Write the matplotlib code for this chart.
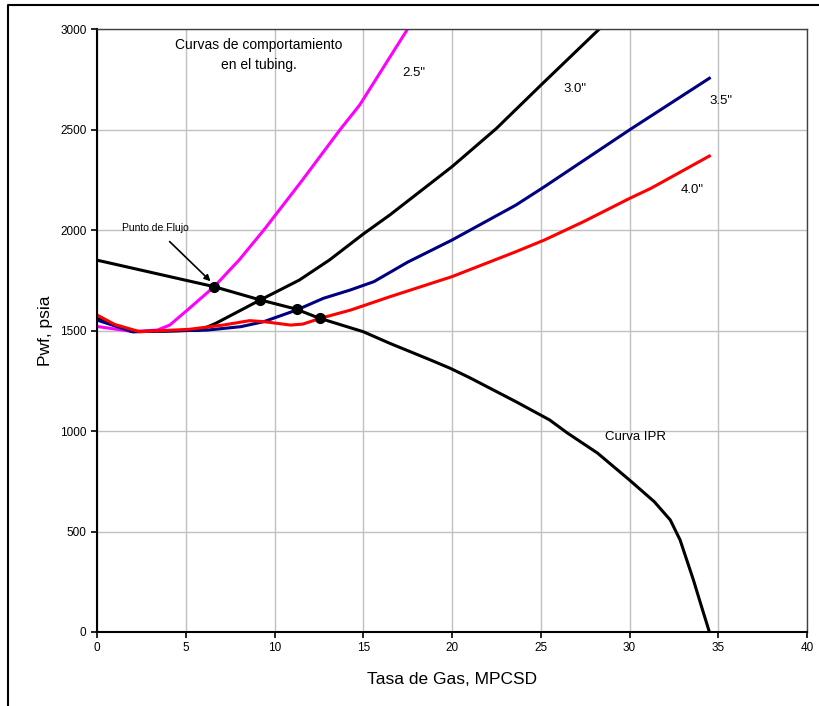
import numpy as np
import matplotlib
matplotlib.use("Agg")
import matplotlib.pyplot as plt
from matplotlib.lines import Line2D

plt.rcParams['font.family'] = ['Liberation Sans', 'DejaVu Sans']

# Curva IPR
q_ipr = [0, 6.6, 9.2, 11.2, 12.5, 15, 16.5, 18.8, 19.9, 21, 23.6, 25.5, 26.5,
         28.2, 30, 31.4, 32.3, 32.85, 33.6, 34.0, 34.5]
p_ipr = [1850, 1718, 1652, 1607, 1562, 1494, 1436, 1353, 1312, 1265, 1146, 1055, 990,
         890, 756, 648, 557, 458, 259, 143, 0]

# Curvas de tubing
q_25 = [0, 2, 3.4, 4.1, 5.2, 6.6, 8, 9.4, 11.5, 13.7, 14.8, 16, 17.5]
p_25 = [1520, 1495, 1502, 1527, 1610, 1718, 1850, 2000, 2240, 2500, 2622, 2790, 3000]

q_30 = [0, 2, 4, 5.8, 6.7, 9.2, 11.4, 13.1, 15, 16.5, 20, 22.5, 25, 28.3]
p_30 = [1560, 1494, 1497, 1502, 1536, 1652, 1751, 1851, 1980, 2075, 2315, 2505, 2720, 3000]

q_35 = [0, 2, 4, 6.2, 8.1, 9.4, 11.25, 12.75, 14.25, 15.6, 17.5, 20, 23.6, 25.2, 30, 34.5]
p_35 = [1552, 1494, 1498, 1502, 1519, 1544, 1602, 1660, 1701, 1743, 1840, 1950, 2124, 2215, 2498, 2755]

q_40 = [0, 1, 2.4, 5.2, 7.1, 8.6, 9.4, 10.9, 11.6, 12.6, 14.3, 16.5, 20, 23.6, 25.2, 27.4,
        30, 31.2, 34.5]
p_40 = [1577, 1530, 1494, 1506, 1527, 1549, 1544, 1527, 1532, 1561, 1602, 1668, 1768, 1892,
        1950, 2041, 2157, 2207, 2368]

# Puntos de flujo
q_pf = [6.6, 9.2, 11.25, 12.55]
p_pf = [1716, 1652, 1607, 1562]

fig = plt.figure(figsize=(8.19, 7.06), dpi=100)
ax = fig.add_axes([97 / 819, 1 - 632 / 706, 710 / 819, 603 / 706])

lw = 2.2
ax.plot(q_25, p_25, color='#ff00ff', lw=lw, solid_joinstyle='round')
ax.plot(q_30, p_30, color='black', lw=lw, solid_joinstyle='round')
ax.plot(q_35, p_35, color='#000080', lw=lw, solid_joinstyle='round')
ax.plot(q_40, p_40, color='#ff0000', lw=lw, solid_joinstyle='round')
ax.plot(q_ipr, p_ipr, color='black', lw=lw, solid_joinstyle='round')
ax.plot(q_pf, p_pf, 'o', color='black', ms=7, zorder=5)

ax.set_xlim(0, 40)
ax.set_ylim(0, 3000)
ax.set_xticks(np.arange(0, 41, 5))
ax.set_yticks(np.arange(0, 3001, 500))
ax.grid(True, color='#c0c0c0', lw=1)
ax.set_axisbelow(True)
ax.tick_params(labelsize=8.5, length=4, width=1.2, direction='out')

for s in ['left', 'bottom']:
    ax.spines[s].set_linewidth(1.5)
    ax.spines[s].set_color('black')
for s in ['top', 'right']:
    ax.spines[s].set_linewidth(1)
    ax.spines[s].set_color('#404040')

ax.set_xlabel('Tasa de Gas, MPCSD', fontsize=12.5, labelpad=13)
ax.set_ylabel('Pwf, psia', fontsize=12.5, labelpad=5)

# Textos
ax.text(9.1, 2870, 'Curvas de comportamiento\nen el tubing.', ha='center', va='center',
        fontsize=10, linespacing=1.5)
ax.text(17.2, 2780, '2.5"', fontsize=9.5, va='center')
ax.text(26.3, 2700, '3.0"', fontsize=9.5, va='center')
ax.text(34.5, 2640, '3.5"', fontsize=9.5, va='center')
ax.text(32.9, 2200, '4.0"', fontsize=9.5, va='center')
ax.text(28.6, 972, 'Curva IPR', fontsize=9.5, va='center')
ax.annotate('Punto de Flujo', xy=(6.4, 1745), xytext=(3.3, 2010), fontsize=7.5,
            ha='center', va='center',
            arrowprops=dict(arrowstyle='-|>', color='black', lw=1.2,
                            shrinkA=6, shrinkB=0, mutation_scale=9))

# Marco exterior
fig.add_artist(Line2D([8 / 819, 8 / 819, 1.0], [0, 1 - 5 / 706, 1 - 5 / 706],
                      transform=fig.transFigure, color='black', lw=1.5))

fig.savefig('out.png', dpi=100)
